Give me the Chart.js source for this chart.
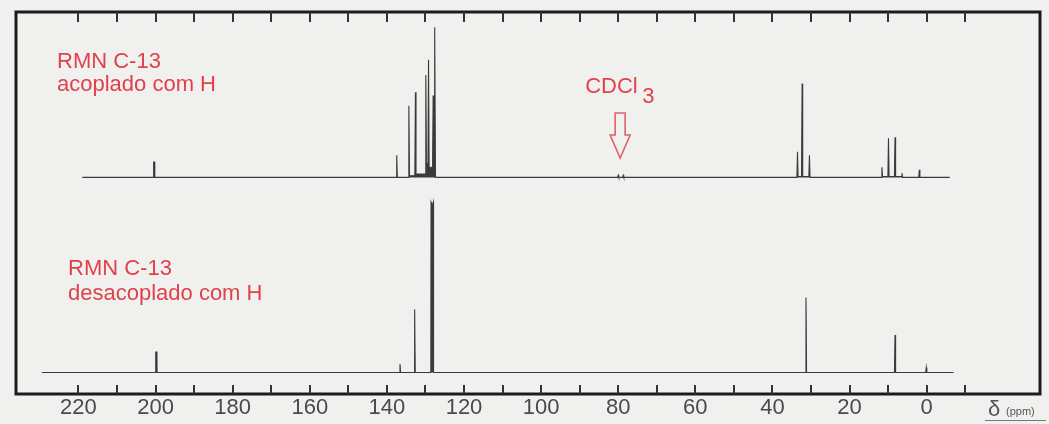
<!DOCTYPE html>
<html>
<head>
<meta charset="utf-8">
<title>RMN C-13</title>
<script src="https://cdn.jsdelivr.net/npm/chart.js@4.4.1/dist/chart.umd.min.js"></script>
<style>
  body { margin: 0; background: #f0f0ee; }
  #wrap { width: 1049px; height: 424px; }
</style>
</head>
<body>
<div id="wrap"><canvas id="nmr"></canvas></div>
<script>
// ppm axis: numbers every 20, tick marks every 10
const axisLabels = [220, 200, 180, 160, 140, 120, 100, 80, 60, 40, 20, 0];
const tickMarks = [220, 210, 200, 190, 180, 170, 160, 150, 140, 130, 120, 110,
  100, 90, 80, 70, 60, 50, 40, 30, 20, 10, 0, -10];

// upper trace, 1H-coupled (trace vertices: ppm / relative intensity)
const coupledPpm = [219, 200.55, 200.5, 200.25, 200.2,
  137.6, 137.45, 137.3, 134.45, 134.3, 134.15, 132.75, 132.6, 132.45,
  130.05, 129.9, 129.75, 129.35, 129.2, 129.05, 128.15, 128.0, 127.85,
  127.75, 127.6, 127.4,
  80.15, 80.0, 79.85, 78.85, 78.7, 78.55,
  33.65, 33.5, 33.35, 32.45, 32.3, 32.15, 30.55, 30.4, 30.25,
  11.75, 11.6, 11.45, 10.05, 9.9, 9.75, 8.35, 8.2, 8.05, 6.55, 6.4, 6.25,
  2.05, 1.9, 1.75, -6];
const coupledInt = [0, 0, 9, 9, 0,
  0, 13, 0, 0, 42, 1, 1, 50, 2,
  2, 60, 8, 8, 69, 6, 6, 48, 9,
  9, 88, 0,
  0, 1.2, 0, 0, 1.2, 0,
  0, 15, 0.5, 0.5, 55, 0.5, 0.5, 13, 0,
  0, 6, 0.5, 0.5, 23, 0.5, 0.5, 23.5, 0.5, 0.5, 2.5, 0,
  0, 4.5, 0, 0];

// lower trace, 1H-decoupled
const decoupledPpm = [229.5, 200.0, 199.95, 199.65, 199.6,
  136.75, 136.6, 136.45, 132.95, 132.8, 132.65,
  128.6, 128.55, 128.2, 127.95, 127.9,
  31.45, 31.3, 31.15, 8.35, 8.2, 8.05, 0.25, 0.1, -0.05, -7];
const decoupledInt = [0, 0, 12, 12, 0,
  0, 5, 0, 0, 37, 0,
  0, 100, 98, 100, 0,
  0, 44, 0, 0, 22, 0, 0, 3, 0, 0];

const solventPpm = 79.5;

function toPoints(xs, ys) {
  return xs.map((v, i) => ({ x: v, y: ys[i] }));
}

const red = '#e0424c';
const ink = '#3a3a3a';
const font = '"Liberation Sans", Arial, sans-serif';

// frame, inward ticks, annotations
const spectrumDecor = {
  id: 'spectrumDecor',
  afterDraw(chart) {
    const { ctx, chartArea: a, scales: { x } } = chart;
    ctx.save();
    ctx.strokeStyle = '#1c1c1c';
    ctx.lineWidth = 3;
    ctx.strokeRect(a.left, a.top, a.right - a.left, a.bottom - a.top);

    ctx.lineWidth = 2;
    ctx.strokeStyle = '#333';
    tickMarks.forEach(v => {
      const px = Math.round(x.getPixelForValue(v));
      ctx.beginPath();
      ctx.moveTo(px, a.bottom);
      ctx.lineTo(px, a.bottom - 9);
      ctx.moveTo(px, a.top);
      ctx.lineTo(px, a.top + 10);
      ctx.stroke();
    });

    ctx.fillStyle = red;
    ctx.font = '22px ' + font;
    ctx.textBaseline = 'alphabetic';
    ctx.fillText('RMN C-13', 57, 68);
    ctx.fillText('acoplado com H', 57, 91);
    ctx.fillText('RMN C-13', 68, 275);
    ctx.fillText('desacoplado com H', 68, 300);

    // solvent marker
    const ax = x.getPixelForValue(solventPpm);
    ctx.fillText('CDCl', ax - 35, 93);
    ctx.fillText('3', ax + 22, 103);
    ctx.strokeStyle = '#e0606a';
    ctx.lineWidth = 1.6;
    ctx.beginPath();
    ctx.moveTo(ax - 5, 113);
    ctx.lineTo(ax + 5, 113);
    ctx.lineTo(ax + 5, 135);
    ctx.lineTo(ax + 10, 135);
    ctx.lineTo(ax, 158);
    ctx.lineTo(ax - 10, 135);
    ctx.lineTo(ax - 5, 135);
    ctx.closePath();
    ctx.stroke();

    // axis caption
    ctx.fillStyle = '#555';
    ctx.font = '22px ' + font;
    ctx.fillText('\u03b4', 988, 416);
    ctx.font = '11px ' + font;
    ctx.fillText('(ppm)', 1006, 415);
    ctx.strokeStyle = '#777';
    ctx.lineWidth = 1;
    ctx.beginPath();
    ctx.moveTo(985, 420.5);
    ctx.lineTo(1046, 420.5);
    ctx.stroke();
    ctx.restore();
  }
};

const config = {
  type: 'line',
  data: {
    datasets: [
      {
        label: 'acoplado',
        data: toPoints(coupledPpm, coupledInt),
        yAxisID: 'yUpper',
        borderColor: ink,
        backgroundColor: ink,
        borderWidth: 1.1,
        pointRadius: 0,
        tension: 0,
        fill: 'origin'
      },
      {
        label: 'desacoplado',
        data: toPoints(decoupledPpm, decoupledInt),
        yAxisID: 'yLower',
        borderColor: ink,
        backgroundColor: ink,
        borderWidth: 1.1,
        pointRadius: 0,
        tension: 0,
        fill: 'origin'
      }
    ]
  },
  options: {
    responsive: true,
    maintainAspectRatio: false,
    animation: false,
    layout: { padding: { left: 16, right: 9, top: 12, bottom: 1.6 } },
    plugins: { legend: { display: false }, tooltip: { enabled: false } },
    scales: {
      x: {
        type: 'linear',
        reverse: true,
        min: -29.4,
        max: 236.2,
        border: { display: false },
        grid: { display: false, drawTicks: false },
        ticks: {
          stepSize: 10,
          autoSkip: false,
          maxRotation: 0,
          includeBounds: false,
          padding: 1,
          color: '#4a4a4a',
          font: { family: font, size: 22 },
          callback: v => axisLabels.includes(v) ? String(v) : ''
        }
      },
      yLower: { type: 'linear', display: false, min: -12.6, max: 211.4 },
      yUpper: { type: 'linear', display: false, min: -127, max: 97 }
    }
  },
  plugins: [spectrumDecor]
};

window.onload = function() {
  const ctx = document.getElementById('nmr').getContext('2d');
  new Chart(ctx, config);
};
</script>
</body>
</html>
